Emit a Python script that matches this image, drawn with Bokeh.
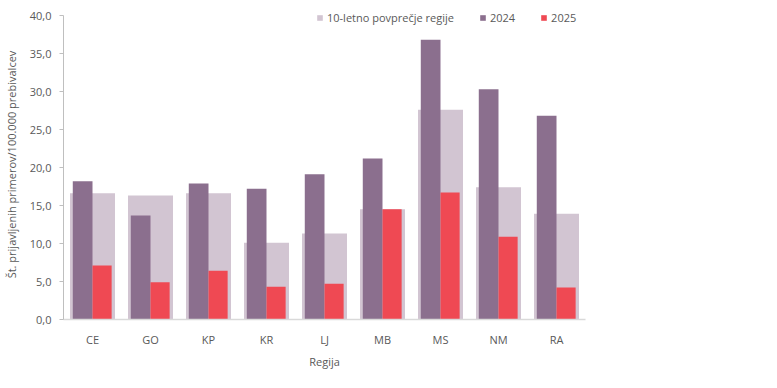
from bokeh.plotting import figure
from bokeh.models import (ColumnDataSource, FactorRange, Range1d, FixedTicker,
                          CustomJSTickFormatter, Legend, LegendItem)
from bokeh.transform import dodge
from bokeh.embed import file_html
from bokeh.resources import INLINE

regije = ["CE", "GO", "KP", "KR", "LJ", "MB", "MS", "NM", "RA"]
povprecje = [16.6, 16.3, 16.6, 10.1, 11.3, 14.5, 27.6, 17.4, 13.9]
leto2024 = [18.2, 13.7, 17.9, 17.2, 19.1, 21.2, 36.8, 30.3, 26.8]
leto2025 = [7.1, 4.9, 6.4, 4.3, 4.7, 14.5, 16.7, 10.9, 4.2]
y_ticks = [0, 5, 10, 15, 20, 25, 30, 35, 40]

FONT = "Open Sans"
TXT = "#595959"

src = ColumnDataSource(dict(regija=regije, avg=povprecje, y24=leto2024, y25=leto2025))

# frame is a little taller than the 0-40 axis so the legend fits above the top tick
p = figure(x_range=FactorRange(*regije, range_padding=0), y_range=Range1d(0, 40 * 310 / 304),
           frame_width=522, frame_height=310, output_backend="svg", toolbar_location=None,
           min_border_left=54, min_border_right=185, min_border_top=9, min_border_bottom=50)

r_avg = p.vbar(x="regija", top="avg", width=0.776, source=src,
               fill_color="#d2c5d2", line_color=None)
r24 = p.vbar(x=dodge("regija", -0.17, range=p.x_range), top="y24", width=0.34, source=src,
             fill_color="#8b6f8e", line_color=None)
r25 = p.vbar(x=dodge("regija", 0.165, range=p.x_range), top="y25", width=0.33, source=src,
             fill_color="#ef4953", line_color=None)

p.outline_line_color = None
p.xgrid.visible = False
p.ygrid.visible = False

ya = p.yaxis[0]
ya.bounds = (0, 40)
ya.ticker = FixedTicker(ticks=y_ticks)
ya.formatter = CustomJSTickFormatter(code="return tick.toFixed(1).replace('.', ',');")
ya.axis_line_color = "#bfbfbf"
ya.major_tick_line_color = "#bfbfbf"
ya.major_tick_out = 4
ya.major_tick_in = 0
ya.minor_tick_line_color = None
ya.major_label_standoff = 8
ya.axis_label = "Št. prijavljenih primerov/100.000 prebivalcev"
ya.axis_label_standoff = 8

xa = p.xaxis[0]
xa.axis_line_color = "#d9d9d9"
xa.axis_line_width = 1.5
xa.major_tick_line_color = None
xa.major_tick_out = 0
xa.major_tick_in = 0
xa.minor_tick_line_color = None
xa.major_label_standoff = 12
xa.axis_label = "Regija"
xa.axis_label_standoff = 4

for ax in (xa, ya):
    ax.major_label_text_font = FONT
    ax.major_label_text_font_size = "11px"
    ax.major_label_text_color = TXT
    ax.axis_label_text_font = FONT
    ax.axis_label_text_font_size = "11px"
    ax.axis_label_text_font_style = "normal"
    ax.axis_label_text_color = TXT

legend = Legend(items=[LegendItem(label="10-letno povprečje regije", renderers=[r_avg]),
                       LegendItem(label="2024", renderers=[r24]),
                       LegendItem(label="2025", renderers=[r25])],
                orientation="horizontal", location=(253, 294),
                glyph_width=7, glyph_height=7, label_height=12, label_standoff=4,
                spacing=25, padding=2, margin=0,
                label_text_font=FONT, label_text_font_size="11px", label_text_color=TXT,
                background_fill_alpha=0, border_line_color=None)
p.add_layout(legend)

open("out.html", "w").write(file_html(p, INLINE))
